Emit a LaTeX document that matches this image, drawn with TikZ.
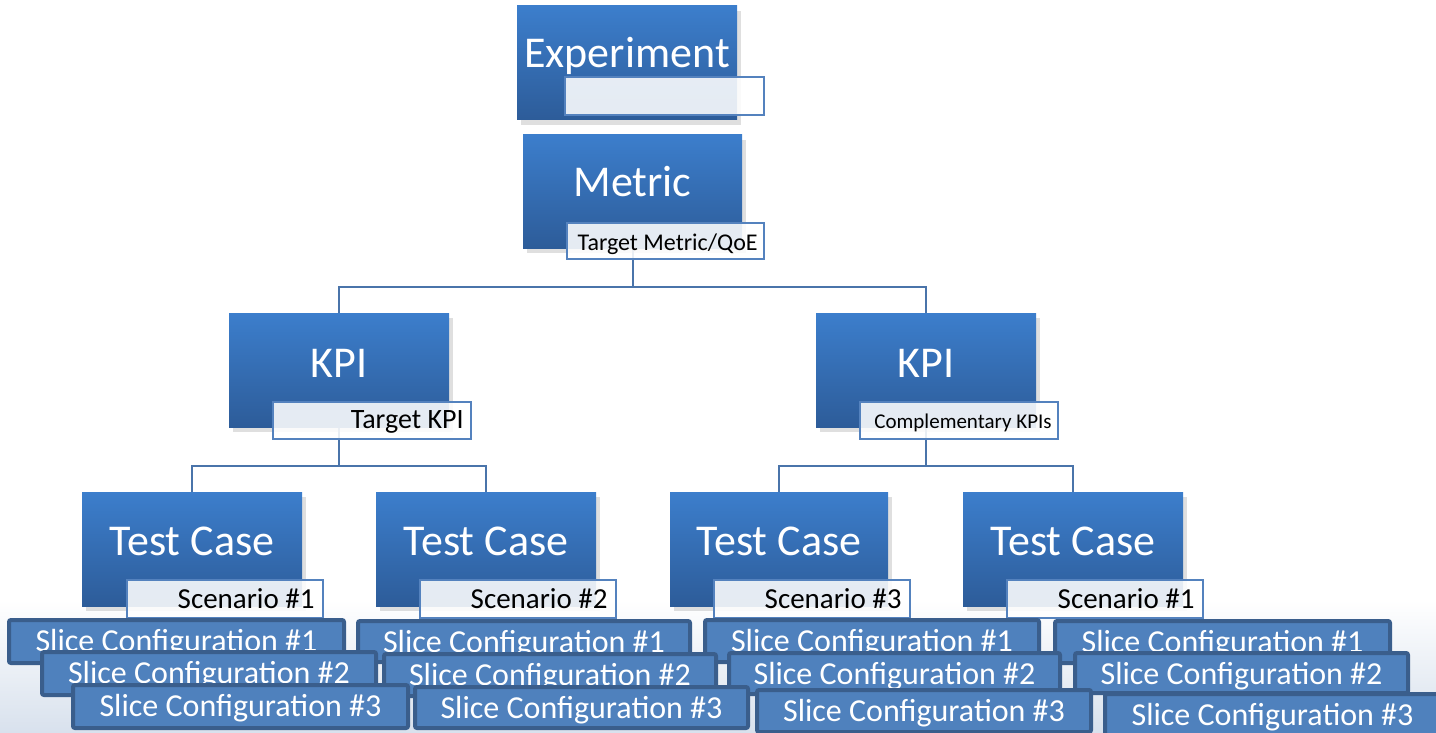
\documentclass[tikz,border=0pt]{standalone}
\usepackage{fontspec}
\setmainfont{Carlito}
\usetikzlibrary{shadows}
\definecolor{boxtop}{RGB}{60,126,204}
\definecolor{boxbot}{RGB}{45,92,153}
\definecolor{conncol}{RGB}{74,116,170}
\definecolor{subborder}{RGB}{84,130,190}
\definecolor{slicefill}{RGB}{79,129,189}
\definecolor{sliceborder}{RGB}{58,94,140}
\definecolor{bgblue}{RGB}{216,225,237}
\pgfdeclarelayer{bgfill}
\pgfdeclarelayer{lines}
\pgfsetlayers{bgfill,lines,main}
\newcommand\mkbox[6]{%
  \node[#1, minimum width={(#5-#3)*0.5pt}, minimum height={(#6-#4)*0.5pt}] (#2) at ({(#3+#5)/2},{(#4+#6)/2}) {};}
\newcommand\mkslice[6]{%
  \mkbox{slicebox}{#1}{#2}{#3}{#4}{#5}
  \node[slicetxt] (#1-t) at ({(#2+#4)/2},{#3+31}) {#6};}
\tikzset{
  bluebox/.style={rectangle, inner sep=0pt, outer sep=0pt, top color=boxtop, bottom color=boxbot,
    drop shadow={shadow xshift=2pt, shadow yshift=-2.5pt, opacity=0.25}},
  subbox/.style={rectangle, inner sep=0pt, outer sep=0pt, draw=subborder, line width=0.8pt, fill=white, fill opacity=0.88},
  slicebox/.style={rectangle, inner sep=0pt, outer sep=0pt, draw=sliceborder, line width=2pt, fill=slicefill, rounded corners=1pt},
  bigtxt/.style={text=white, font=\fontsize{22}{26}\selectfont, anchor=base, inner sep=0pt},
  subtxt/.style={text=black, anchor=base east, inner sep=0pt},
  slicetxt/.style={text=white, font=\fontsize{16}{19}\selectfont, anchor=base, inner sep=0pt},
  conn/.style={draw=conncol, line width=1pt}
}
\begin{document}
\begin{tikzpicture}[x=0.5pt,y=-0.5pt]
\useasboundingbox (0,0) rectangle (1436,733);
\begin{pgfonlayer}{bgfill}
\fill[top color=white, bottom color=bgblue] (0,600) rectangle (1436,733);
\end{pgfonlayer}

% junction coordinates
\coordinate (j0) at (632.5,287);
\coordinate (j1) at (339,466);
\coordinate (j2) at (926,466);

% main boxes
\mkbox{bluebox}{exp}{517}{6}{737}{120}
\mkbox{bluebox}{met}{523}{135}{742}{248}
\mkbox{bluebox}{kpiL}{229}{313}{449}{427}
\mkbox{bluebox}{kpiR}{816}{313}{1036}{427}
\mkbox{bluebox}{tc1}{82}{492}{302}{606}
\mkbox{bluebox}{tc2}{376}{492}{596}{606}
\mkbox{bluebox}{tc3}{670}{492}{888}{606}
\mkbox{bluebox}{tc4}{963}{492}{1183}{606}

% connectors (behind the boxes)
\begin{pgfonlayer}{lines}
\draw[conn] (met.center) -- (j0);
\draw[conn] (j0) -| (kpiL.north);
\draw[conn] (j0) -| (kpiR.north);
\draw[conn] (kpiL.center) -- (j1);
\draw[conn] (j1) -| (tc1.north);
\draw[conn] (j1) -| (tc2.north);
\draw[conn] (kpiR.center) -- (j2);
\draw[conn] (j2) -| (tc3.north);
\draw[conn] (j2) -| (tc4.north);
\end{pgfonlayer}

% sub boxes
\mkbox{subbox}{exp-s}{565}{77}{764}{115}
\mkbox{subbox}{met-s}{567}{223}{764}{259}
\mkbox{subbox}{kpiL-s}{273}{402}{471}{439}
\mkbox{subbox}{kpiR-s}{860}{402}{1058}{439}
\mkbox{subbox}{tc1-s}{127}{580}{323}{618}
\mkbox{subbox}{tc2-s}{420}{580}{616}{618}
\mkbox{subbox}{tc3-s}{714}{580}{910}{618}
\mkbox{subbox}{tc4-s}{1007}{580}{1203}{618}

% big texts
\node[bigtxt] (exp-t) at (627,68) {Experiment};
\node[bigtxt] (met-t) at (632.5,197) {Metric};
\node[bigtxt] (kpiL-t) at (339,377) {KPI};
\node[bigtxt] (kpiR-t) at (926,377) {KPI};
\node[bigtxt] (tc1-t) at (192,555) {Test Case};
\node[bigtxt] (tc2-t) at (486,555) {Test Case};
\node[bigtxt] (tc3-t) at (779,555) {Test Case};
\node[bigtxt] (tc4-t) at (1073,555) {Test Case};

% sub texts
\node[subtxt, font=\fontsize{12}{14}\selectfont] (met-st) at (758,250) {Target Metric/QoE};
\node[subtxt, font=\fontsize{14}{16}\selectfont] (kpiL-st) at (464,428) {Target KPI};
\node[subtxt, font=\fontsize{10.5}{12}\selectfont] (kpiR-st) at (1052,428) {Complementary KPIs};
\node[subtxt, font=\fontsize{14.5}{17}\selectfont] (tc1-st) at (315,608) {Scenario \#1};
\node[subtxt, font=\fontsize{14.5}{17}\selectfont] (tc2-st) at (608,608) {Scenario \#2};
\node[subtxt, font=\fontsize{14.5}{17}\selectfont] (tc3-st) at (902,608) {Scenario \#3};
\node[subtxt, font=\fontsize{14.5}{17}\selectfont] (tc4-st) at (1195,608) {Scenario \#1};

% slice configurations, row by row
\mkslice{a1}{9}{620}{344}{663}{Slice Configuration \#1}
\mkslice{b1}{358}{621}{690}{662}{Slice Configuration \#1}
\mkslice{c1}{705}{620}{1039}{662}{Slice Configuration \#1}
\mkslice{d1}{1055}{621}{1390}{663}{Slice Configuration \#1}

\mkslice{a2}{42}{652}{376}{695}{Slice Configuration \#2}
\mkslice{b2}{384}{654}{716}{696}{Slice Configuration \#2}
\mkslice{c2}{729}{653}{1060}{694}{Slice Configuration \#2}
\mkslice{d2}{1075}{653}{1408}{693}{Slice Configuration \#2}

\mkslice{a3}{73}{685}{408}{728}{Slice Configuration \#3}
\mkslice{b3}{415}{687}{748}{728}{Slice Configuration \#3}
\mkslice{c3}{757}{690}{1091}{732}{Slice Configuration \#3}
\mkslice{d3}{1105}{694}{1440}{735}{Slice Configuration \#3}
\end{tikzpicture}
\end{document}
